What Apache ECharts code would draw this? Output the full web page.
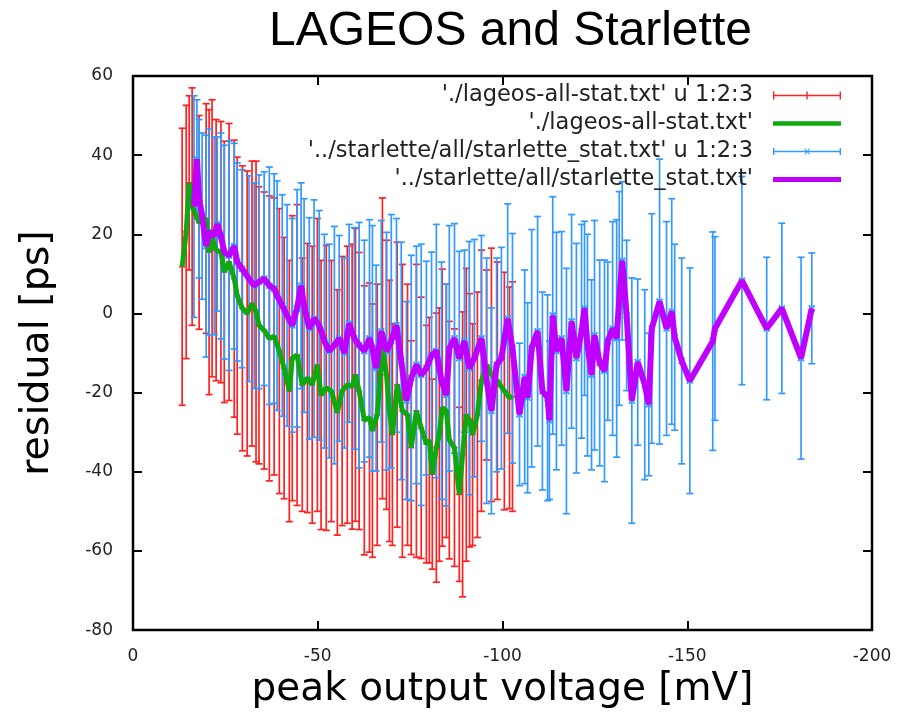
<!DOCTYPE html>
<html>
<head>
<meta charset="utf-8">
<title>LAGEOS and Starlette</title>
<script src="https://cdn.jsdelivr.net/npm/echarts@6/dist/echarts.min.js"></script>
<style>
  html, body { margin: 0; padding: 0; background: #fff; }
  #chart { width: 902px; height: 714px; }
</style>
</head>
<body>
<div id="chart"></div>
<script>
// LAGEOS: peak voltage [mV], mean residual [ps], error [ps]
var lageosX = [-13.3, -14.4, -15.2, -16.0, -17.9, -19.8, -20.6, -21.4, -22.5, -23.8,
    -24.7, -26.0, -27.4, -28.2, -29.6, -30.9, -32.2, -33.3, -34.1, -35.5,
    -36.9, -38.2, -39.6, -40.9, -42.3, -43.1, -44.4, -45.8, -47.2, -48.5,
    -49.9, -50.9, -52.3, -53.7, -55.3, -56.6, -58.0, -59.3, -60.2, -61.2,
    -62.6, -64.0, -64.8, -66.1, -67.5, -68.6, -69.4, -70.2, -71.5, -72.9,
    -74.3, -75.3, -76.7, -78.0, -79.4, -80.2, -81.0, -82.1, -82.9, -83.7,
    -84.8, -85.6, -87.0, -88.3, -89.2, -90.2, -91.1, -91.9, -93.2, -94.3,
    -95.7, -97.0, -98.6, -100.5, -101.9, -102.7];
var lageosY = [11.8, 20.6, 33, 27, 23, 24, 15.5, 19, 16, 15.5,
    10.5, 13, 8.8, 4.5, 1.3, 0, 2.5, 0.5, -3, -4.3,
    -6.3, -5.8, -9.5, -13.8, -19.6, -11.3, -10.5, -18, -16.3, -18,
    -13, -20.6, -18.8, -19.6, -25, -19.6, -18, -18.5, -15.5, -19.6,
    -27, -26.3, -29.6, -25.6, -8.8, -15.5, -24.6, -30.6, -18, -24.6,
    -25.6, -33.9, -24.6, -28.9, -33, -32, -40.6, -33.9, -30.6, -23.8,
    -24.6, -32, -33.9, -45.7, -35.6, -25.6, -27, -30.6, -25.6, -17,
    -13, -15.5, -17, -19.6, -21.3, -21];
var lageosErr = [35, 32, 22, 30, 27, 29, 36, 35, 33, 33,
    33, 35, 35, 35, 36, 36, 36, 38, 35, 35,
    36, 35, 36, 33, 33, 36, 38, 32, 34, 35,
    37, 34, 36, 33, 31, 34, 35, 36, 37, 35,
    34, 34, 32, 33, 38, 34, 33, 28, 36, 37,
    33, 27, 37, 33, 30, 31, 24, 34, 32, 35,
    32, 30, 30, 22, 36, 37, 32, 28, 31, 33,
    24, 32, 30, 30, 28, 29];

// Starlette
var starX = [-16.5, -17.3, -17.9, -18.7, -19.8, -20.6, -22.0, -22.8, -23.8, -24.7,
    -26.0, -27.4, -28.2, -29.5, -31.4, -32.8, -34.1, -35.5, -36.9, -38.2,
    -39.0, -40.4, -41.7, -43.1, -44.4, -45.5, -46.3, -47.7, -49.0, -50.4,
    -51.8, -53.1, -54.5, -55.8, -57.2, -58.5, -59.9, -61.2, -62.6, -64.0,
    -64.8, -65.8, -67.2, -68.6, -69.9, -71.3, -72.6, -74.0, -75.3, -76.7,
    -78.0, -79.4, -80.8, -82.1, -83.5, -84.8, -85.6, -87.0, -88.3, -89.7,
    -91.0, -92.4, -94.3, -95.7, -97.0, -98.4, -99.7, -101.4, -102.7, -104.6,
    -106.0, -106.8, -107.9, -109.5, -110.8, -112.2, -112.7, -113.6, -114.6, -116.0,
    -117.3, -118.7, -120.0, -121.4, -122.2, -123.0, -124.1, -124.9, -126.3, -127.6,
    -128.5, -129.8, -130.9, -131.6, -132.4, -133.6, -135.0, -136.6, -138.5, -139.6,
    -140.4, -142.5, -144.4, -145.8, -146.6, -148.5, -150.7, -156.9, -157.5, -164.8,
    -171.5, -175.6, -180.8, -183.7];
var starY = [27, 39, 29, 24.6, 17, 20.6, 19.6, 22.6, 19.6, 15.5,
    14.6, 17, 13, 11.3, 8.8, 7, 8, 8.8, 7, 6.3,
    4.5, 2, -0.5, -3, 1.3, 7, 2, -3.8, -1.3, -3,
    -7, -9.5, -8, -6.3, -10, -2.5, -6.3, -8, -9.5, -6.3,
    -8.8, -13.8, -4.5, -9.5, -7, -3, -12, -22, -16.3, -13,
    -15.5, -13.8, -10.5, -9.5, -17, -20.6, -8.8, -6.3, -11.3, -7,
    -13.8, -11.3, -6.3, -17, -24.6, -13, -11.3, -1.3, -8.8, -25.5,
    -16, -21.3, -8.8, -4.5, -19.6, -21.3, -27, -0.5, -9.5, -6.3,
    -19.6, -2, -11.3, -4.5, 1.3, -8, -15.5, -5.5, -12.5, -14.5,
    -7, -3.8, -6.3, 3.8, 13.3, -0.5, -22, -12.3, -18, -23,
    -3.8, 3, -3.8, 0.5, -6, -12, -17, -7, -3.8, 8.3,
    -3.8, 1.3, -11.3, 1.3];
var starErr = [28, 15, 20, 21, 28, 26, 25, 22, 26, 27,
    29, 26, 25, 25, 26, 26, 27, 27, 30, 29,
    29, 28, 28, 27, 30, 26, 27, 28, 30, 29,
    27, 27, 30, 26, 24, 25, 28, 31, 28, 30,
    31, 26, 28, 30, 32, 27, 30, 25, 31, 30,
    33, 27, 26, 32, 30, 28, 31, 29, 27, 23,
    32, 30, 26, 31, 26, 27, 28, 29, 29, 18,
    27, 24, 30, 29, 25, 26, 20, 30, 30, 27,
    31, 27, 29, 27, 22, 28, 24, 29, 26, 28,
    20, 27, 30, 27, 20, 19, 31, 21, 24, 18,
    29, 36, 27, 28.5, 23.5, 26, 28.5, 27.6, 23.2, 26.3,
    18, 21.5, 25.5, 14];

var xTicks = [0, -50, -100, -150, -200];

var names = [
    "'./lageos-all-stat.txt' u 1:2:3",
    "'./lageos-all-stat.txt'",
    "'../starlette/all/starlette_stat.txt' u 1:2:3",
    "'../starlette/all/starlette_stat.txt'"
];
var RED = '#ff2020', GREEN = '#0fa80f', BLUE = '#3399ff', PURPLE = '#c000ff';

function zip3(a, b, c) {
    var out = [];
    for (var i = 0; i < a.length; i++) out.push([a[i], b[i], c[i]]);
    return out;
}
function zip2(a, b) {
    var out = [];
    for (var i = 0; i < a.length; i++) out.push([a[i], b[i]]);
    return out;
}

// error bar drawn from the axis scales
function errorBars(color, mark) {
    return function (params, api) {
        var x = api.value(0), y = api.value(1), e = api.value(2);
        var hi = api.coord([x, y + e]);
        var lo = api.coord([x, y - e]);
        var c = api.coord([x, y]);
        var cap = 3.5, m = 3;
        function seg(x1, y1, x2, y2) {
            return {type: 'line', shape: {x1: x1, y1: y1, x2: x2, y2: y2},
                style: {stroke: color, lineWidth: 1.7, fill: null}};
        }
        var kids = [
            seg(hi[0], hi[1], lo[0], lo[1]),
            seg(hi[0] - cap, hi[1], hi[0] + cap, hi[1]),
            seg(lo[0] - cap, lo[1], lo[0] + cap, lo[1])
        ];
        if (mark === 'plus') {
            kids.push(seg(c[0] - m, c[1], c[0] + m, c[1]));
        } else {
            kids.push(seg(c[0] - m, c[1] - m, c[0] + m, c[1] + m));
            kids.push(seg(c[0] - m, c[1] + m, c[0] + m, c[1] - m));
        }
        return {type: 'group', children: kids};
    };
}

// legend icons in an 83x12 box, drawn part starts at x=15
var box = 'M0,0h0.01v0.01h-0.01z M82.99,11.99h0.01v0.01h-0.01z ';
var iconRed = 'path://' + box + 'M15,5.3h68v1.4h-68z M15,2h1.4v8h-1.4z M81.6,2h1.4v8h-1.4z M48.3,2h1.4v8h-1.4z';
var iconBlue = 'path://' + box + 'M15,5.3h68v1.4h-68z M15,2.5h1.4v7h-1.4z M81.6,2.5h1.4v7h-1.4z ' +
    'M46,3h1.2l5,6h-1.2z M51,3h1.2l-5,6h-1.2z';
var iconGreen = 'path://' + box + 'M15,3.7h68v4.6h-68z';
var iconPurple = 'path://' + box + 'M15,3.5h68v5h-68z';

var tickStyle = {inside: true, length: 9, lineStyle: {color: '#000', width: 2}};
var noLine = {show: false, onZero: false};

var chart = echarts.init(document.getElementById('chart'));
var option = {
    animation: false,
    title: {
        text: 'LAGEOS and Starlette',
        left: 264,
        top: 2,
        padding: [6, 5, 5, 5],
        textStyle: {fontFamily: 'Liberation Sans', fontSize: 48, fontWeight: 'normal', color: '#000'}
    },
    legend: {
        orient: 'vertical',
        align: 'right',
        right: 56,
        top: 79,
        itemWidth: 83,
        itemHeight: 12,
        itemGap: 5,
        selectedMode: false,
        itemStyle: {borderWidth: 0},
        textStyle: {fontFamily: 'DejaVu Sans', fontSize: 22.5, color: '#222'},
        data: [
            {name: names[0], icon: iconRed, itemStyle: {color: RED}},
            {name: names[1], icon: iconGreen, itemStyle: {color: GREEN}},
            {name: names[2], icon: iconBlue, itemStyle: {color: BLUE}},
            {name: names[3], icon: iconPurple, itemStyle: {color: PURPLE}}
        ]
    },
    grid: {
        left: 133, right: 30, top: 76, bottom: 80,
        show: true, borderColor: '#000', borderWidth: 2.5, backgroundColor: 'transparent'
    },
    xAxis: [{
        type: 'value', min: -200, max: 0, interval: 50, inverse: true, position: 'bottom',
        name: 'peak output voltage [mV]', nameLocation: 'middle', nameGap: 36,
        nameTextStyle: {fontFamily: 'DejaVu Sans', fontSize: 39, color: '#000'},
        axisLine: noLine,
        axisTick: tickStyle,
        axisLabel: {margin: 18, fontFamily: 'DejaVu Sans', fontSize: 17, color: '#222',
            customValues: xTicks},
        splitLine: {show: false}
    }, {
        type: 'value', min: -200, max: 0, interval: 50, inverse: true, position: 'top',
        axisLine: noLine,
        axisTick: tickStyle,
        axisLabel: {show: false},
        splitLine: {show: false}
    }],
    yAxis: [{
        type: 'value', min: -80, max: 60, interval: 20, position: 'left',
        name: 'residual [ps]', nameLocation: 'middle', nameGap: 75, nameRotate: 90,
        nameTextStyle: {fontFamily: 'DejaVu Sans', fontSize: 39.5, color: '#000'},
        axisLine: noLine,
        axisTick: tickStyle,
        axisLabel: {margin: 20, fontFamily: 'DejaVu Sans', fontSize: 17, color: '#222'},
        splitLine: {show: false}
    }, {
        type: 'value', min: -80, max: 60, interval: 20, position: 'right',
        axisLine: noLine,
        axisTick: tickStyle,
        axisLabel: {show: false},
        splitLine: {show: false}
    }],
    series: [{
        name: names[0],
        type: 'custom',
        renderItem: errorBars(RED, 'plus'),
        itemStyle: {color: RED},
        encode: {x: 0, y: 1},
        data: zip3(lageosX, lageosY, lageosErr)
    }, {
        name: names[1],
        type: 'line',
        showSymbol: false,
        itemStyle: {color: GREEN},
        lineStyle: {color: GREEN, width: 5},
        data: zip2(lageosX, lageosY)
    }, {
        name: names[2],
        type: 'custom',
        renderItem: errorBars(BLUE, 'cross'),
        itemStyle: {color: BLUE},
        encode: {x: 0, y: 1},
        data: zip3(starX, starY, starErr)
    }, {
        name: names[3],
        type: 'line',
        showSymbol: false,
        itemStyle: {color: PURPLE},
        lineStyle: {color: PURPLE, width: 6},
        data: zip2(starX, starY)
    }]
};
chart.setOption(option);
</script>
</body>
</html>
